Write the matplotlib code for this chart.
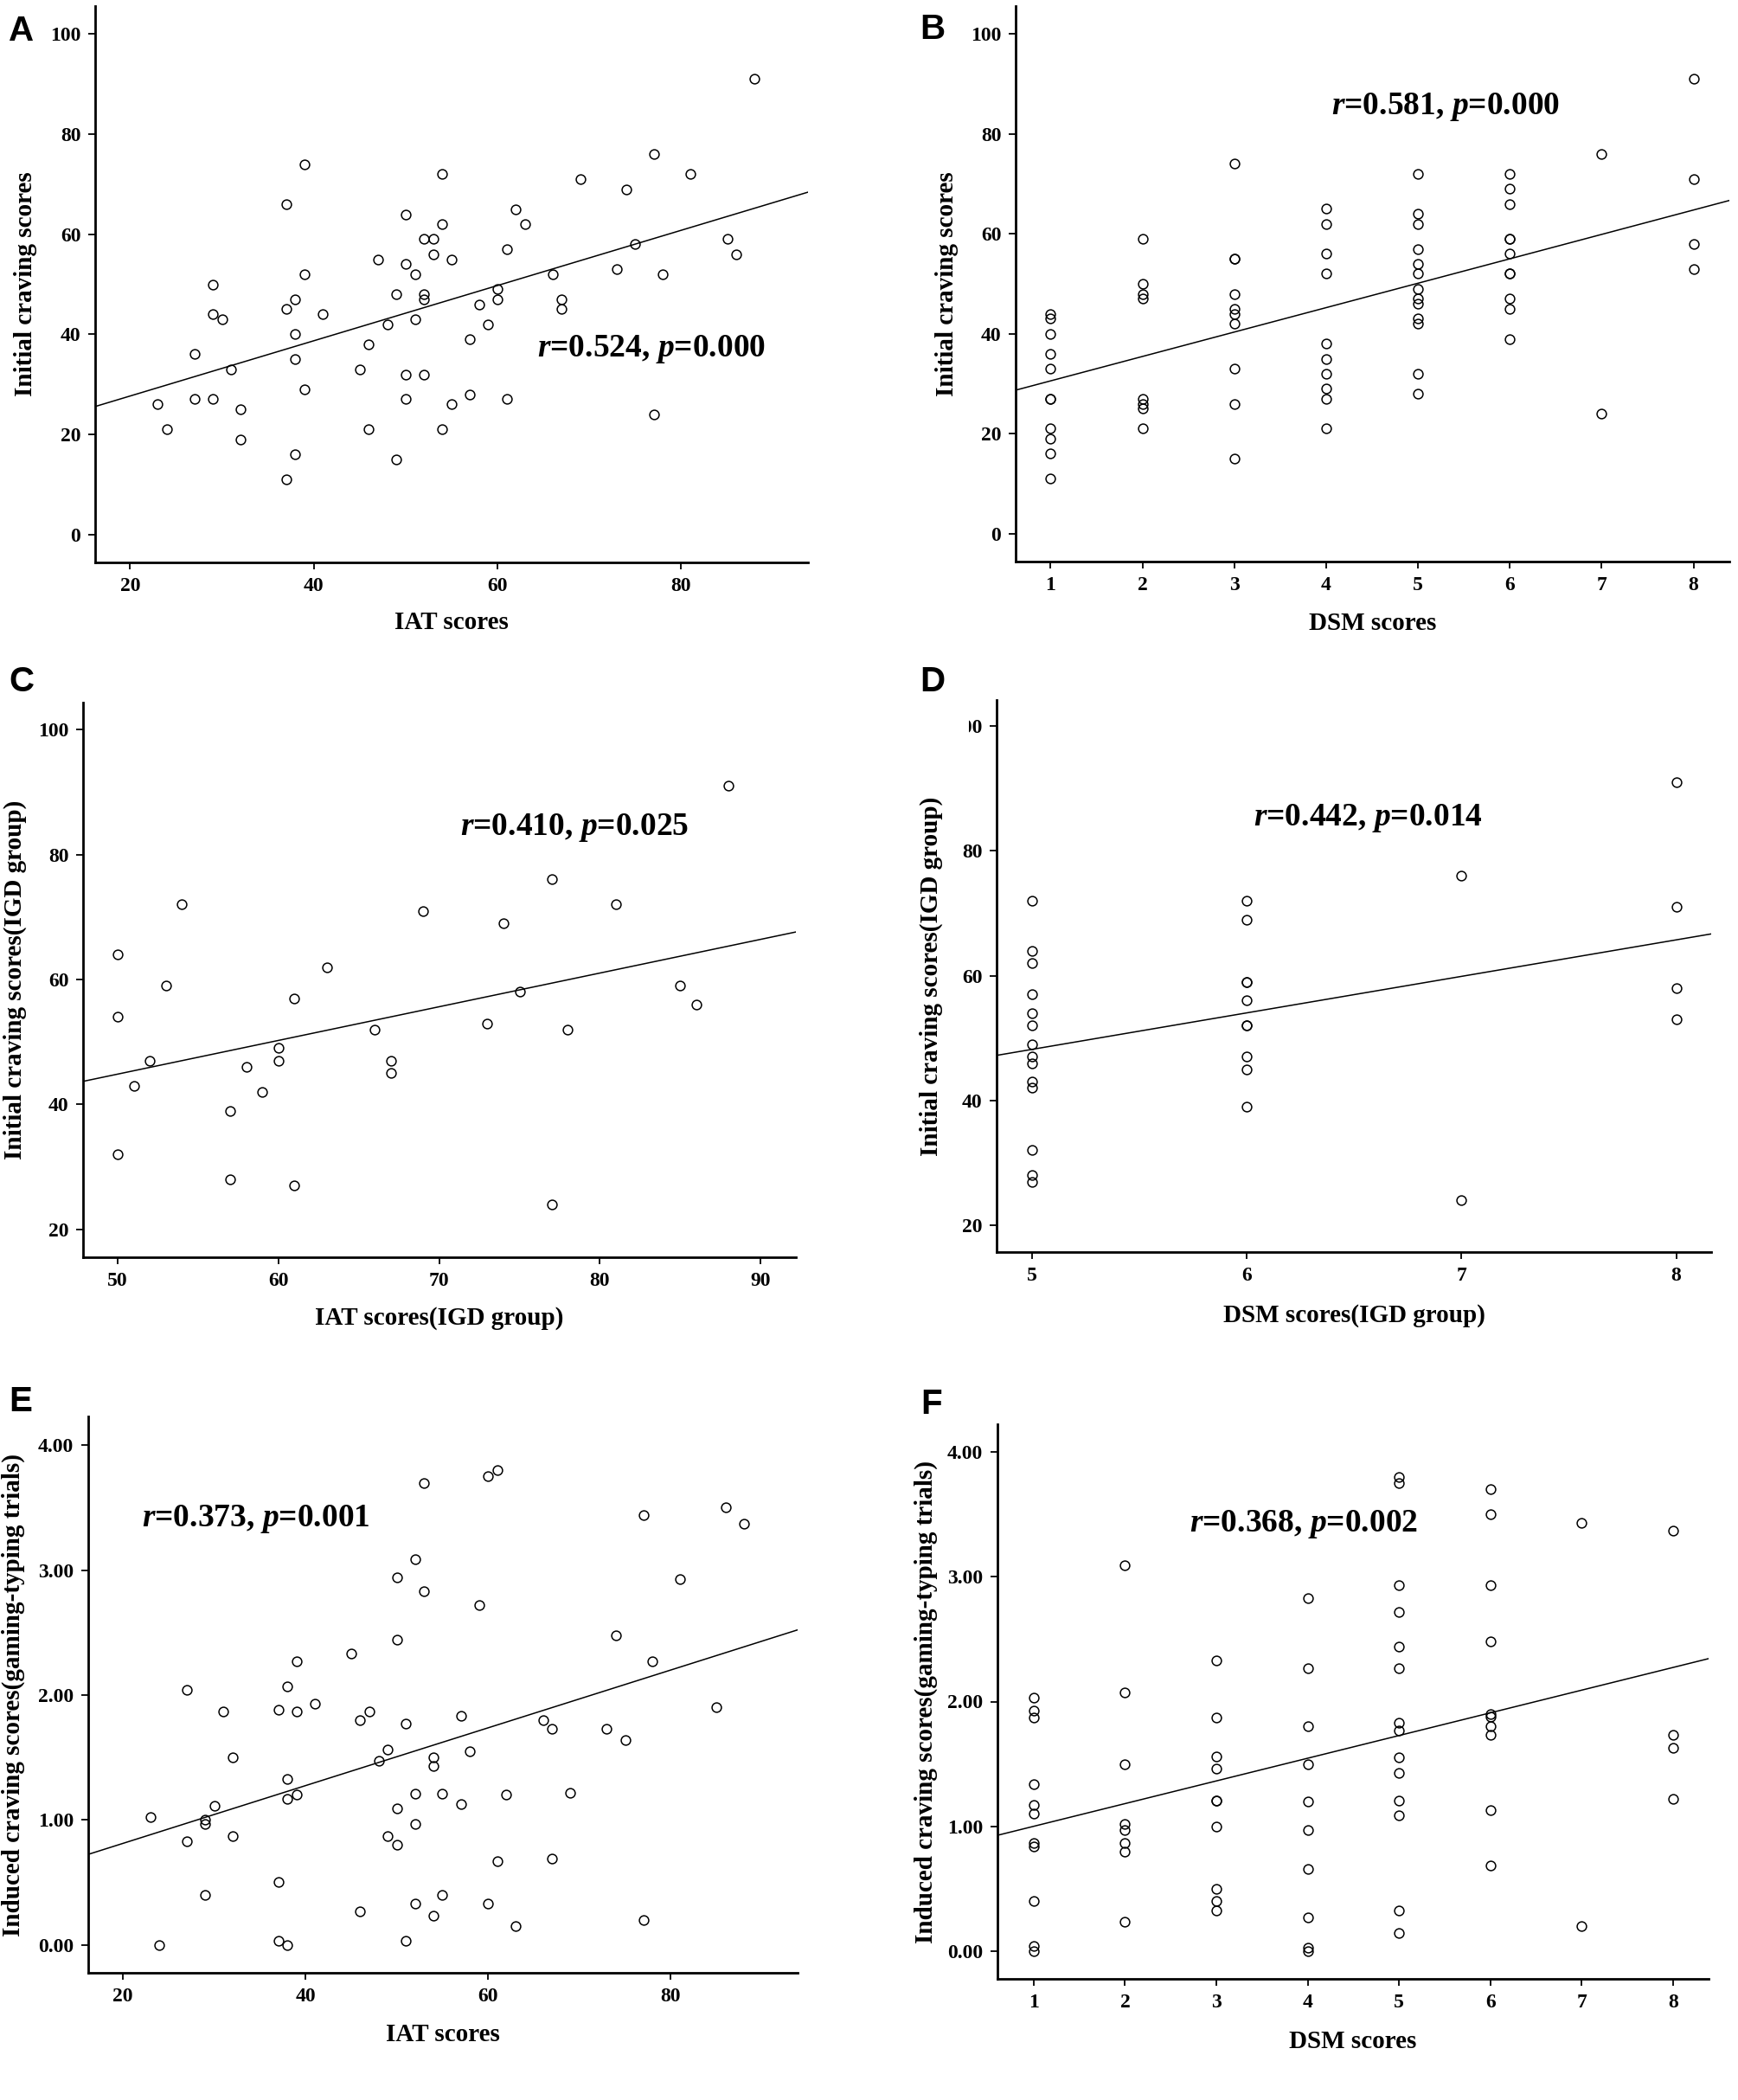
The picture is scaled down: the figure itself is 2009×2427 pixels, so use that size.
import numpy as np
import matplotlib
matplotlib.use('Agg')
import matplotlib.pyplot as plt
from matplotlib.patches import Rectangle

plt.rcParams['font.family'] = ['Liberation Serif', 'DejaVu Serif']
plt.rcParams['font.weight'] = 'bold'
plt.rcParams['mathtext.fontset'] = 'custom'
plt.rcParams['mathtext.rm'] = 'Liberation Serif:bold'
plt.rcParams['mathtext.it'] = 'Liberation Serif:italic:bold'
plt.rcParams['mathtext.bf'] = 'Liberation Serif:bold'

# ---- data ----
# A: IAT vs initial craving (all subjects)
iat_all = [88, 77, 39, 54, 81, 69, 74, 37, 62, 50, 54, 63, 52, 53, 85, 75, 61, 53, 86, 47,
           55, 50, 39, 51, 66, 78, 73, 29, 60, 49, 52, 52, 38, 60, 67, 58, 37, 67, 29, 41,
           30, 51, 48, 59, 38, 57, 46, 27, 38, 31, 45, 50, 52, 39, 57, 27, 29, 50, 61, 23,
           55, 32, 77, 24, 46, 54, 32, 38, 49, 37]
crav_iat = [91, 76, 74, 72, 72, 71, 69, 66, 65, 64, 62, 62, 59, 59, 59, 58, 57, 56, 56, 55,
            55, 54, 52, 52, 52, 52, 53, 50, 49, 48, 48, 47, 47, 47, 47, 46, 45, 45, 44, 44,
            43, 43, 42, 42, 40, 39, 38, 36, 35, 33, 33, 32, 32, 29, 28, 27, 27, 27, 27, 26,
            26, 25, 24, 21, 21, 21, 19, 16, 15, 11]

# B: DSM vs initial craving (all subjects)
dsm_all = ([1] * 11 + [2] * 8 + [3] * 10 + [4] * 10 + [5] * 13 + [6] * 11 + [7] * 2 + [8] * 4)
crav_dsm = ([44, 43, 40, 36, 33, 27, 27, 21, 19, 16, 11] +
            [59, 50, 48, 47, 27, 26, 25, 21] +
            [74, 55, 55, 48, 45, 44, 42, 33, 26, 15] +
            [65, 62, 56, 52, 38, 35, 32, 29, 27, 21] +
            [72, 64, 62, 57, 54, 52, 49, 47, 46, 43, 42, 32, 28] +
            [72, 69, 66, 59, 59, 56, 52, 52, 47, 45, 39] +
            [76, 24] +
            [91, 71, 58, 53])

# C: IAT vs initial craving (IGD group)
iat_igd = [88, 77, 54, 81, 69, 74, 50, 63, 53, 85, 75, 61, 86, 50, 73, 66, 78, 60, 52, 60,
           67, 58, 67, 51, 59, 57, 50, 57, 61, 77]
crav_iat_igd = [91, 76, 72, 72, 71, 69, 64, 62, 59, 59, 58, 57, 56, 54, 53, 52, 52, 49, 47, 47,
                47, 46, 45, 43, 42, 39, 32, 28, 27, 24]

# D: DSM vs initial craving (IGD group)
dsm_igd = [5] * 14 + [6] * 10 + [7] * 2 + [8] * 4
crav_dsm_igd = ([72, 64, 62, 57, 54, 52, 49, 47, 46, 43, 42, 32, 28, 27] +
                [72, 69, 59, 59, 56, 52, 47, 45, 39] + [52] +
                [76, 24] +
                [91, 71, 58, 53])

# E: IAT vs induced craving
iat_ind = [61, 60, 53, 86, 77, 88, 52, 50, 81, 53, 59, 74, 50, 45, 39, 78, 38, 27, 41, 85,
           31, 37, 39, 47, 57, 46, 66, 51, 67, 73, 75, 32, 54, 49, 58, 48, 54, 38, 39, 38,
           52, 55, 62, 69, 57, 30, 50, 23, 29, 29, 52, 32, 49, 27, 50, 67, 61, 37, 29, 55,
           52, 60, 46, 54, 77, 63, 37, 51, 24, 38]
ind_iat = [3.80, 3.75, 3.70, 3.50, 3.44, 3.37, 3.09, 2.94, 2.93, 2.83, 2.72, 2.48, 2.44, 2.33,
           2.27, 2.27, 2.07, 2.04, 1.93, 1.90, 1.87, 1.88, 1.87, 1.87, 1.83, 1.80, 1.80, 1.77,
           1.73, 1.73, 1.64, 1.50, 1.50, 1.56, 1.55, 1.47, 1.43, 1.33, 1.20, 1.17, 1.21, 1.21,
           1.20, 1.22, 1.13, 1.11, 1.09, 1.02, 1.00, 0.97, 0.97, 0.87, 0.87, 0.83, 0.80, 0.69,
           0.67, 0.50, 0.40, 0.40, 0.33, 0.33, 0.27, 0.23, 0.20, 0.15, 0.03, 0.03, 0.00, 0.00]

# F: DSM vs induced craving
dsm_ind = [1] * 11 + [2] * 8 + [3] * 10 + [4] * 10 + [5] * 14 + [6] * 10 + [7] * 2 + [8] * 4
ind_dsm = ([2.03, 1.93, 1.87, 1.34, 1.17, 1.10, 0.87, 0.84, 0.40, 0.04, 0.00] +
           [3.09, 2.07, 1.50, 1.02, 0.97, 0.87, 0.80, 0.24] +
           [2.33, 1.87, 1.56, 1.46, 1.21, 1.21, 1.00, 0.50, 0.40, 0.33] +
           [2.83, 2.27, 1.80, 1.50, 1.20, 0.97, 0.66, 0.27, 0.03, 0.00] +
           [3.80, 3.75, 2.93, 2.72, 2.44, 2.27, 1.83, 1.77, 1.55, 1.43, 1.21, 1.09, 0.33, 0.15] +
           [3.70, 3.50, 2.93, 2.48, 1.90, 1.88, 1.80, 1.73, 1.13, 0.69] +
           [3.43, 0.20] +
           [3.37, 1.73, 1.63, 1.22])

W, H = 2009, 2427
fig = plt.figure(figsize=(W / 100, H / 100), dpi=100)


def panel(px, x, y, xlim, ylim, xticks, yticks, xlabel, ylabel, ylab_right, xlab_top,
          letter, letter_xy, note, note_xy, yfmt=None):
    x0, y0, x1, y1 = px
    ax = fig.add_axes([x0 / W, 1 - y1 / H, (x1 - x0) / W, (y1 - y0) / H])
    ax.plot(x, y, 'o', ms=7.8, mfc='none', mec='black', mew=1.1, zorder=3)
    coef = np.polyfit(x, y, 1)
    xs = np.array(xlim)
    ax.plot(xs, np.polyval(coef, xs), color='black', lw=1.1, zorder=2)
    ax.set_xlim(xlim)
    ax.set_ylim(ylim)
    ax.set_xticks(xticks)
    ax.set_yticks(yticks)
    if yfmt:
        ax.set_yticklabels([yfmt % t for t in yticks])
    for s in ['top', 'right']:
        ax.spines[s].set_visible(False)
    for s in ['left', 'bottom']:
        ax.spines[s].set_linewidth(2.0)
    ax.tick_params(direction='out', length=6, width=1.3, labelsize=17, pad=6)
    ax.set_xlabel(xlabel, fontsize=21, fontweight='bold')
    ax.set_ylabel(ylabel, fontsize=21, fontweight='bold')
    ax.yaxis.set_label_coords((ylab_right - x0) / (x1 - x0), 0.5)
    ax.xaxis.set_label_coords(0.5, (y1 - xlab_top) / (y1 - y0))
    fig.text(letter_xy[0] / W, 1 - letter_xy[1] / H, letter, fontsize=29,
             fontweight='bold', family='Liberation Sans', ha='left', va='center')
    fig.text(note_xy[0] / W, 1 - note_xy[1] / H, note, fontsize=27,
             ha='left', va='center')
    return ax


panel((110, 7, 934, 650), iat_all, crav_iat, (16.2, 93.8), (-5.6, 105.6),
      [20, 40, 60, 80], [0, 20, 40, 60, 80, 100], 'IAT scores', 'Initial craving scores',
      43, 706, 'A', (10, 36), r'$\mathit{r}$=0.524, $\mathit{p}$=0.000', (621, 404))

panel((1174, 7, 1999, 649), dsm_all, crav_dsm, (0.62, 8.39), (-5.6, 105.6),
      list(range(1, 9)), [0, 20, 40, 60, 80, 100], 'DSM scores', 'Initial craving scores',
      1108, 707, 'B', (1063, 34), r'$\mathit{r}$=0.581, $\mathit{p}$=0.000', (1539, 123))

panel((96, 812, 920, 1453), iat_igd, crav_iat_igd, (47.84, 92.2), (15.55, 104.3),
      [50, 60, 70, 80, 90], [20, 40, 60, 80, 100], 'IAT scores(IGD group)',
      'Initial craving scores(IGD group)',
      31, 1510, 'C', (10, 788), r'$\mathit{r}$=0.410, $\mathit{p}$=0.025', (532, 956))

axd = panel((1152, 809, 1978, 1447), dsm_igd, crav_dsm_igd, (4.834, 8.163), (15.7, 104.2),
            [5, 6, 7, 8], [20, 40, 60, 80, 100], 'DSM scores(IGD group)',
            'Initial craving scores(IGD group)',
            1090, 1507, 'D', (1063, 788), r'$\mathit{r}$=0.442, $\mathit{p}$=0.014', (1449, 945))
# the top tick label of D is partly hidden in the original
fig.add_artist(Rectangle((1092 / W, 1 - 850 / H), 28 / W, 30 / H, transform=fig.transFigure,
                         fc='white', ec='none', zorder=10))

panel((102, 1637, 922, 2280), iat_ind, ind_iat, (16.2, 93.9), (-0.224, 4.23),
      [20, 40, 60, 80], [0, 1, 2, 3, 4], 'IAT scores',
      'Induced craving scores(gaming-typing trials)',
      29, 2338, 'E', (10, 1620), r'$\mathit{r}$=0.373, $\mathit{p}$=0.001', (164, 1755), '%.2f')

panel((1153, 1646, 1975, 2287), dsm_ind, ind_dsm, (0.604, 8.39), (-0.22, 4.22),
      list(range(1, 9)), [0, 1, 2, 3, 4], 'DSM scores',
      'Induced craving scores(gaming-typing trials)',
      1084, 2346, 'F', (1064, 1623), r'$\mathit{r}$=0.368, $\mathit{p}$=0.002', (1375, 1762), '%.2f')

fig.savefig('out.png', dpi=100, facecolor='white')
